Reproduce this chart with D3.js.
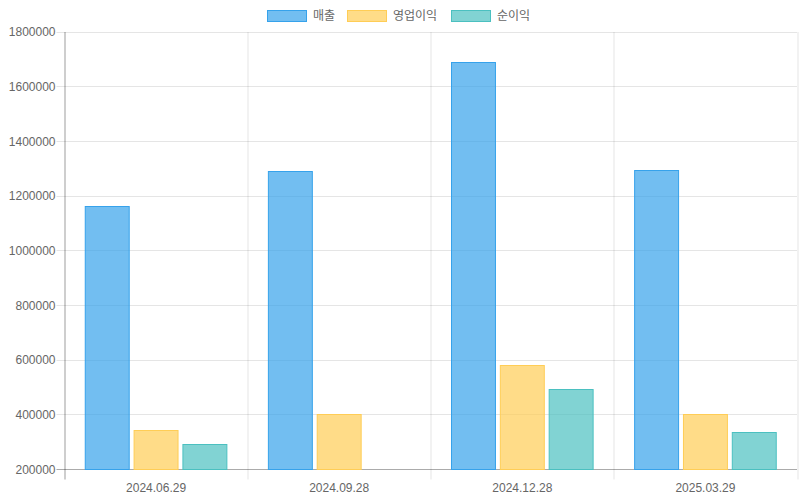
<!DOCTYPE html>
<html>
<head>
<meta charset="utf-8">
<script src="https://cdn.jsdelivr.net/npm/d3@7"></script>
<style>
  body { margin: 0; background: #fff; }
  text { font-family: "Liberation Sans", Arial, "Noto Sans CJK KR", sans-serif; }
</style>
</head>
<body>
<div id="chart"></div>
<script>
// data
const dates = ["2024.06.29", "2024.09.28", "2024.12.28", "2025.03.29"];
const seriesNames = ["매출", "영업이익", "순이익"];
const sales = [1163000, 1290000, 1688000, 1295000];
const opProfit = [343000, 401000, 580000, 401000];
const netProfit = [290000, 195000, 492000, 335000];
const yTicks = [200000, 400000, 600000, 800000, 1000000, 1200000, 1400000, 1600000, 1800000];

const fills = ["rgba(54,162,235,0.7)", "rgba(255,205,86,0.7)", "rgba(75,192,192,0.7)"];
const strokes = ["rgb(54,162,235)", "rgb(255,205,86)", "rgb(75,192,192)"];

const W = 800, H = 500;
const margin = {top: 32, right: 3, bottom: 30.5, left: 64.5};
const width = W - margin.left - margin.right;
const height = H - margin.top - margin.bottom;

const svg = d3.select("#chart").append("svg")
    .attr("width", W)
    .attr("height", H);

const g = svg.append("g")
    .attr("transform", "translate(" + margin.left + "," + margin.top + ")");

const x = d3.scaleBand()
    .domain(dates)
    .range([0, width]);

const y = d3.scaleLinear()
    .domain([200000, 1800000])
    .range([height, 0])
    .clamp(true);

// snap to half pixel so 1px strokes stay crisp
const py = v => Math.round(y(v) - 0.5) + 0.5;

// grid lines
g.append("g").selectAll("line")
    .data(yTicks)
    .join("line")
    .attr("x1", -8).attr("x2", width)
    .attr("y1", d => py(d))
    .attr("y2", d => py(d))
    .attr("stroke", "rgba(0,0,0,0.1)");

g.append("g").selectAll("line")
    .data(d3.range(dates.length + 1))
    .join("line")
    .attr("x1", i => Math.round(i * x.bandwidth()) + 0.5)
    .attr("x2", i => Math.round(i * x.bandwidth()) + 0.5)
    .attr("y1", 0).attr("y2", height + 10)
    .attr("stroke", "rgba(0,0,0,0.1)");

// axis lines
g.append("line")
    .attr("x1", 0.5).attr("x2", 0.5)
    .attr("y1", 0).attr("y2", height + 10)
    .attr("stroke", "rgba(0,0,0,0.3)");
g.append("line")
    .attr("x1", -8).attr("x2", width)
    .attr("y1", py(200000)).attr("y2", py(200000))
    .attr("stroke", "rgba(0,0,0,0.25)");

// y tick labels
g.append("g").selectAll("text")
    .data(yTicks)
    .join("text")
    .attr("x", -9)
    .attr("y", d => y(d))
    .attr("dy", "0.35em")
    .attr("text-anchor", "end")
    .attr("font-size", 12)
    .attr("fill", "#666")
    .text(d => d);

// x tick labels
g.append("g").selectAll("text")
    .data(dates)
    .join("text")
    .attr("x", d => x(d) + x.bandwidth() / 2)
    .attr("y", height + 22)
    .attr("text-anchor", "middle")
    .attr("font-size", 12)
    .attr("fill", "#666")
    .text(d => d);

// bars: category 80%, bar 90%
const all = [sales, opProfit, netProfit];
const catW = x.bandwidth() * 0.8;
const slot = catW / all.length;
const barW = slot * 0.9;

all.forEach((vals, s) => {
    g.append("g").selectAll("rect")
        .data(vals)
        .join("rect")
        .attr("x", (d, i) => x(dates[i]) + x.bandwidth() * 0.1 + s * slot + (slot - barW) / 2)
        .attr("y", d => py(d))
        .attr("width", barW)
        .attr("height", d => py(200000) - py(d))
        .attr("fill", fills[s])
        .attr("stroke", strokes[s])
        .attr("stroke-width", 1);
});

// legend
const legendX = [267, 347, 451];
const legend = svg.append("g");
seriesNames.forEach((name, s) => {
    legend.append("rect")
        .attr("x", legendX[s] + 0.5).attr("y", 10.5)
        .attr("width", 39).attr("height", 11)
        .attr("fill", fills[s])
        .attr("stroke", strokes[s]);
    legend.append("text")
        .attr("x", legendX[s] + 46)
        .attr("y", 16)
        .attr("dy", "0.35em")
        .attr("font-size", 12)
        .attr("fill", "#666")
        .text(name);
});
</script>
</body>
</html>
